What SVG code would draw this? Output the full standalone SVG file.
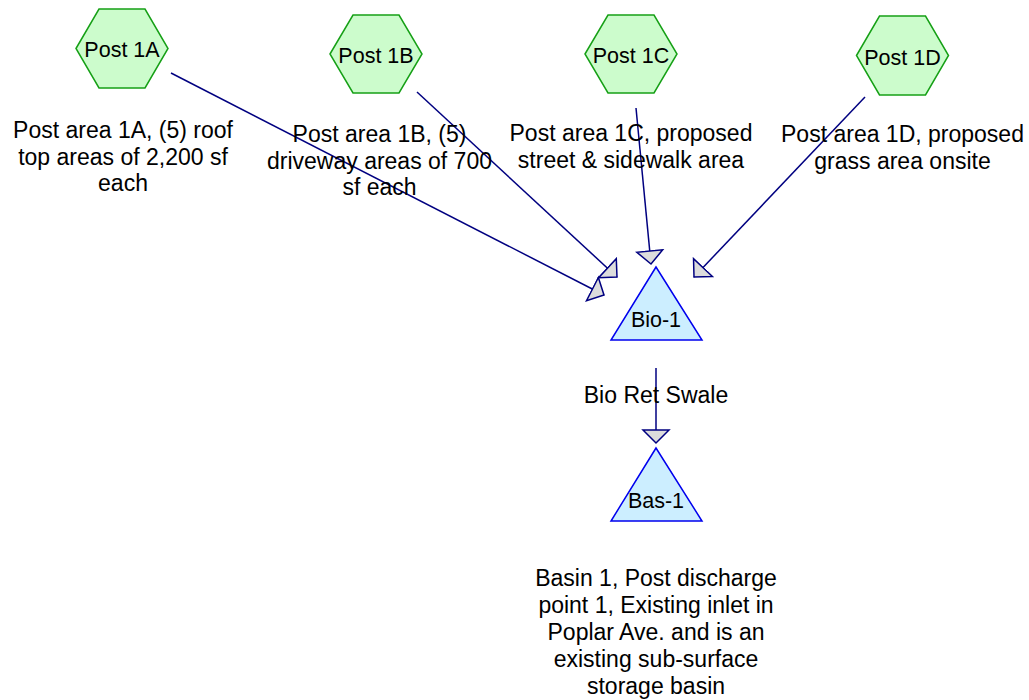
<svg xmlns="http://www.w3.org/2000/svg" width="1029" height="700" viewBox="0 0 1029 700">
<style>
.hex{fill:#ccfccc;stroke:#16a016;stroke-width:1.5}
.tri{fill:#cceeff;stroke:#0000ee;stroke-width:1.5}
.node{font-family:"Liberation Sans",Arial,sans-serif;font-size:21.5px;fill:#000;text-anchor:middle}
.lbl{font-family:"Liberation Sans",Arial,sans-serif;font-size:23px;fill:#000;text-anchor:middle}
.con{stroke:#000080;stroke-width:1.5;fill:none;marker-end:url(#ah)}
</style>
<defs>
<marker id="ah" markerUnits="userSpaceOnUse" markerWidth="30" markerHeight="30" viewBox="-14 -15 30 30" refX="0" refY="0" orient="auto">
<path d="M-13,-13 L0,0 L-13,13 z" fill="#dcdcdc" stroke="#000080" stroke-width="1.5" stroke-linejoin="miter"/>
</marker>
</defs>
<rect width="1029" height="700" fill="#ffffff"/>
<g id="connectors">
<line class="con" x1="171" y1="73" x2="604" y2="295"/>
<line class="con" x1="417" y1="92" x2="617" y2="277"/>
<line class="con" x1="636" y1="108" x2="651" y2="264"/>
<line class="con" x1="865" y1="97" x2="694" y2="277"/>
<line class="con" x1="656" y1="368" x2="656" y2="443"/>
</g>
<g id="post1A">
<polygon class="hex" points="76,48.5 99,9 145,9 168,48.5 145,88 99,88"/>
<text class="node" x="122" y="57">Post 1A</text>
</g>
<g id="post1B">
<polygon class="hex" points="330,54 353,15 399,15 422,54 399,93 353,93"/>
<text class="node" x="376" y="63">Post 1B</text>
</g>
<g id="post1C">
<polygon class="hex" points="585,54 608,15 654,15 677,54 654,93 608,93"/>
<text class="node" x="631" y="63">Post 1C</text>
</g>
<g id="post1D">
<polygon class="hex" points="856.5,55.5 879.5,16 925.5,16 948.5,55.5 925.5,95 879.5,95"/>
<text class="node" x="902.5" y="65">Post 1D</text>
</g>
<g id="bio1">
<polygon class="tri" points="656,267 611,340 702,340"/>
<text class="node" x="656" y="327">Bio-1</text>
</g>
<g id="bas1">
<polygon class="tri" points="656,448 611,521 702,521"/>
<text class="node" x="656" y="508">Bas-1</text>
</g>
<g id="labels">
<text class="lbl" x="123" y="138">Post area 1A, (5) roof</text>
<text class="lbl" x="123" y="165">top areas of 2,200 sf</text>
<text class="lbl" x="123" y="191">each</text>
<text class="lbl" x="379.5" y="142">Post area 1B, (5)</text>
<text class="lbl" x="379.5" y="169">driveway areas of 700</text>
<text class="lbl" x="379.5" y="195">sf each</text>
<text class="lbl" x="631" y="141">Post area 1C, proposed</text>
<text class="lbl" x="631" y="168">street &amp; sidewalk area</text>
<text class="lbl" x="902.5" y="142">Post area 1D, proposed</text>
<text class="lbl" x="902.5" y="169">grass area onsite</text>
<text class="lbl" x="656" y="403">Bio Ret Swale</text>
<text class="lbl" x="656" y="586">Basin 1, Post discharge</text>
<text class="lbl" x="656" y="613">point 1, Existing inlet in</text>
<text class="lbl" x="656" y="640">Poplar Ave. and is an</text>
<text class="lbl" x="656" y="667">existing sub-surface</text>
<text class="lbl" x="656" y="694">storage basin</text>
</g>
</svg>
